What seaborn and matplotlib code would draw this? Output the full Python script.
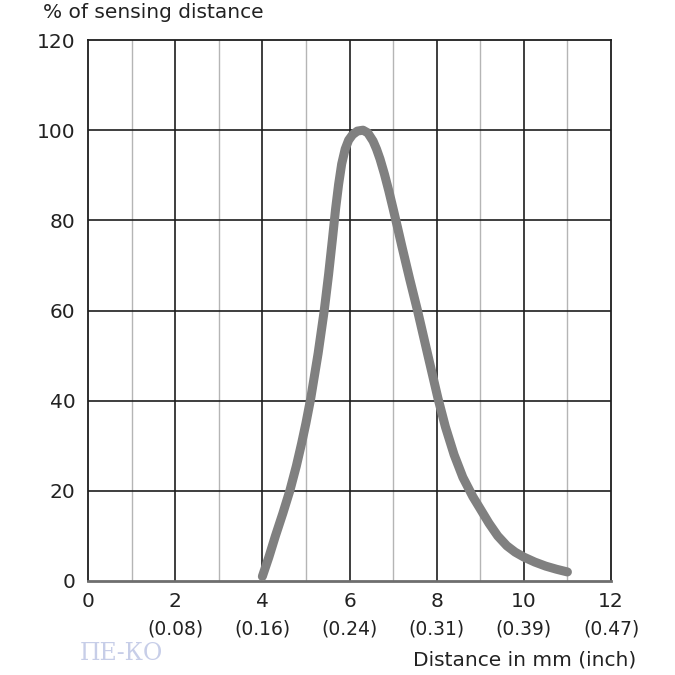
import matplotlib
matplotlib.use("Agg")
import matplotlib.pyplot as plt
import seaborn as sns
import pandas as pd

# Datos
dist_mm = [4.0, 4.15, 4.3, 4.47, 4.63, 4.78, 4.9, 5.0, 5.11, 5.28, 5.42, 5.52, 5.61, 5.68,
           5.75, 5.82, 5.90, 5.98, 6.07, 6.18, 6.31, 6.42, 6.54, 6.62, 6.70, 6.80, 6.90, 7.0,
           7.1, 7.2, 7.38, 7.56, 7.8, 8.03, 8.2, 8.4, 8.6, 8.83, 9.0, 9.2, 9.4, 9.61, 9.8,
           10.0, 10.25, 10.5, 10.75, 11.0]
pct = [1.0, 5.3, 10.0, 15.0, 20.0, 25.5, 30.5, 35.0, 40.5, 50.5, 60.0, 68.0, 76.0, 82.5,
       88.0, 92.5, 95.8, 97.8, 99.0, 99.8, 100.0, 99.4, 97.6, 95.8, 93.6, 90.3, 86.6, 82.6,
       78.5, 74.3, 67.0, 60.0, 50.0, 40.5, 34.2, 28.0, 23.0, 18.7, 16.0, 12.8, 10.0, 7.8, 6.4,
       5.3, 4.2, 3.3, 2.6, 2.0]

mm_ticks = [0, 2, 4, 6, 8, 10, 12]
inch_labels = ["", "(0.08)", "(0.16)", "(0.24)", "(0.31)", "(0.39)", "(0.47)"]
pct_ticks = [0, 20, 40, 60, 80, 100, 120]

df = pd.DataFrame({"mm": dist_mm, "pct": pct})

sns.set_style("white")
plt.rcParams["font.family"] = ["DejaVu Sans"]

fig = plt.figure(figsize=(6.75, 6.75), dpi=100)
ax = fig.add_axes([0.1304, 0.1393, 0.7748, 0.8014])

# Rejilla: mayores oscuras, menores grises
for x in [1, 3, 5, 7, 9, 11]:
    ax.axvline(x, color="#b5b5b5", lw=1.0, zorder=1)
for x in [2, 4, 6, 8, 10]:
    ax.axvline(x, color="#1e1e1e", lw=1.2, zorder=1)
for y in [20, 40, 60, 80, 100]:
    ax.axhline(y, color="#1e1e1e", lw=1.2, zorder=1)

sns.lineplot(data=df, x="mm", y="pct", ax=ax, color="#808080", lw=6.5,
             solid_capstyle="round", solid_joinstyle="round", zorder=3)

ax.set_xlim(0, 12)
ax.set_ylim(0, 120)
ax.set_xticks(mm_ticks)
ax.set_xticklabels([str(t) for t in mm_ticks], fontsize=14.5, color="#222222")
ax.set_yticks(pct_ticks)
ax.set_yticklabels([str(t) for t in pct_ticks], fontsize=14.5, color="#222222")
ax.tick_params(axis="x", length=0, pad=8)
ax.tick_params(axis="y", length=0, pad=9)
ax.set_xlabel("")
ax.set_ylabel("")

for s in ["left", "top", "right"]:
    ax.spines[s].set_color("#1e1e1e")
    ax.spines[s].set_linewidth(1.3)
ax.spines["bottom"].set_color("#6e6e6e")
ax.spines["bottom"].set_linewidth(2)

# Etiquetas en pulgadas
trans = ax.get_xaxis_transform()
for t, lab in zip(mm_ticks, inch_labels):
    ax.text(t, -0.088, lab, transform=trans, ha="center", va="center",
            fontsize=13.5, color="#222222")

fig.text(0.063, 0.982, "% of sensing distance", fontsize=14.5, color="#222222",
         ha="left", va="center")
fig.text(0.943, 0.022, "Distance in mm (inch)", fontsize=14.5, color="#222222",
         ha="right", va="center")

# Marca de agua
fig.text(0.118, 0.032, "ПЕ-КО", fontsize=17, color="#9aa6d6", alpha=0.55,
         ha="left", va="center", family=["DejaVu Serif"])

fig.savefig("out.png", dpi=100)
